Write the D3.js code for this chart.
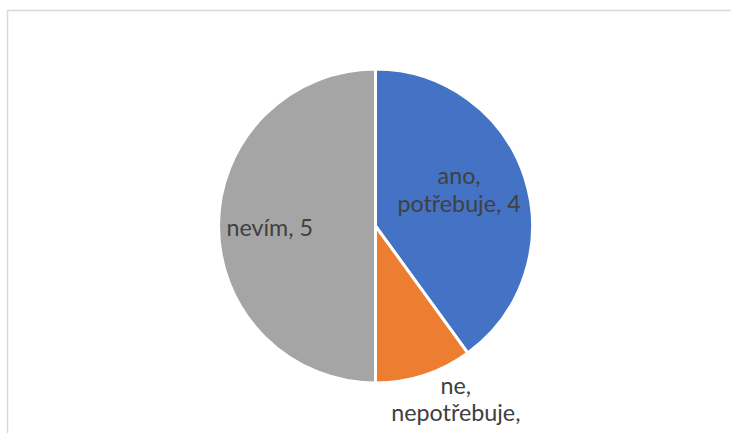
<!DOCTYPE html>
<html>
<head>
<meta charset="utf-8">
<script src="https://cdn.jsdelivr.net/npm/d3@7"></script>
<style>
  body { margin: 0; background: #fff; }
  text { font-family: Lato, "Liberation Sans", sans-serif; fill: #404040; }
</style>
</head>
<body>
<svg width="731" height="433"></svg>
<script>
  const categories = ['ano, potřebuje', 'ne, nepotřebuje', 'nevím'];
  const values = [4, 1, 5];
  const colors = ['#4472c4', '#ed7d31', '#a5a5a5'];

  const svg = d3.select('svg');
  const w = 731, h = 433;
  const cx = 375.5, cy = 226, r = 157;

  // chart area border (cut off on right and bottom)
  svg.append('path')
    .attr('d', 'M7.5,' + h + 'V10.5H' + w)
    .attr('fill', 'none')
    .attr('stroke', '#d9d9d9')
    .attr('stroke-width', 1.5);

  const data = categories.map((c, i) => ({ name: c, value: values[i], color: colors[i] }));

  const pie = d3.pie().value(d => d.value).sort(null);
  const arc = d3.arc().innerRadius(0).outerRadius(r);
  const arcs = pie(data);

  const g = svg.append('g').attr('transform', 'translate(' + cx + ',' + cy + ')');

  g.selectAll('path.slice')
    .data(arcs)
    .enter().append('path')
      .attr('class', 'slice')
      .attr('d', arc)
      .attr('fill', d => d.data.color)
      .attr('stroke', '#fff')
      .attr('stroke-width', 3)
      .attr('stroke-linejoin', 'miter');

  // label placement: radius factor per slice (best fit like the original)
  const labelRadius = [0.6, 1.12, 0.68];
  const labelShift = [[-6, -7], [26, 20], [1, 2]];
  const lineH = 27.5;

  arcs.forEach((d, i) => {
    const a = (d.startAngle + d.endAngle) / 2;
    const lr = r * labelRadius[i];
    const x = Math.sin(a) * lr + labelShift[i][0];
    const y = -Math.cos(a) * lr + labelShift[i][1];
    let lines;
    if (i === 2) lines = [d.data.name + ', ' + d.data.value];
    else if (i === 1) lines = ['ne,', 'nepotřebuje,', String(d.data.value)];
    else {
      const parts = d.data.name.split(', ');
      lines = [parts[0] + ',', parts[1] + ', ' + d.data.value];
    }
    const t = g.append('text')
      .attr('text-anchor', 'middle')
      .attr('font-size', 23.3);
    const top = i === 1 ? y - lineH : y - (lines.length - 1) * lineH / 2;
    lines.forEach((l, k) => {
      // the third line of the small slice label falls below the canvas, as in the original
      const extra = (i === 1 && k === 2) ? 3 : 0;
      t.append('tspan')
        .attr('x', x)
        .attr('y', top + k * lineH + extra)
        .attr('dy', '0.35em')
        .text(l);
    });
  });
</script>
</body>
</html>
